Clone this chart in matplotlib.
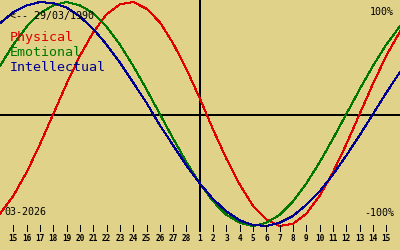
import matplotlib
matplotlib.use("Agg")
import matplotlib.pyplot as plt

# day index: 0 = 15 Feb, 14 = 1 Mar, 28 = 15 Mar (one point per day, -1 .. 30)
days = list(range(-1, 31))
tick_labels = ["15", "16", "17", "18", "19", "20", "21", "22", "23", "24", "25", "26", "27", "28",
               "1", "2", "3", "4", "5", "6", "7", "8", "9", "10", "11", "12", "13", "14", "15"]

physical = [-0.89, -0.73, -0.52, -0.27, 0.0, 0.27, 0.52, 0.73, 0.89, 0.98, 1.0, 0.94,
            0.82, 0.63, 0.40, 0.14, -0.14, -0.40, -0.63, -0.82, -0.94, -1.0, -0.98, -0.89,
            -0.73, -0.52, -0.27, 0.0, 0.27, 0.52, 0.73, 0.89]
emotional = [0.43, 0.62, 0.78, 0.90, 0.97, 1.0, 0.97, 0.90, 0.78, 0.62, 0.43, 0.22,
             0.0, -0.22, -0.43, -0.62, -0.78, -0.90, -0.97, -1.0, -0.97, -0.90, -0.78, -0.62,
             -0.43, -0.22, 0.0, 0.22, 0.43, 0.62, 0.78, 0.90]
intellectual = [0.81, 0.91, 0.97, 1.0, 0.99, 0.95, 0.87, 0.76, 0.62, 0.46, 0.28, 0.10,
                -0.10, -0.28, -0.46, -0.62, -0.76, -0.87, -0.95, -0.99, -1.0, -0.97, -0.91, -0.81,
                -0.69, -0.54, -0.37, -0.19, 0.0, 0.19, 0.37, 0.54]

bg = "#e1d28a"
red = "#e00000"
green = "#007800"
blue = "#000090"

fig = plt.figure(figsize=(4, 2.5), dpi=100, facecolor=bg)
ax = fig.add_axes([0, 0, 1, 1], facecolor=bg)
ax.set_xlim(-1.0, 29.03)
ax.set_ylim(-1.214, 1.018)
ax.axis("off")

# axes cross (the vertical one stops at the tick row)
ax.axhline(-0.01, color="black", lw=1.1, antialiased=False)
ax.plot([14.05, 14.05], [1.1, -1.04], color="black", lw=1.1, antialiased=False)

ax.plot(days, physical, color=red, lw=0.72, antialiased=False)
ax.plot(days, emotional, color=green, lw=0.72, antialiased=False)
ax.plot(days, intellectual, color=blue, lw=0.72, antialiased=False)

# day ticks along the bottom
mono = "DejaVu Sans Mono"
for i, lab in enumerate(tick_labels):
    ax.plot([i, i], [-0.995, -1.04], color="black", lw=0.72, antialiased=False)
    ax.text(i, -1.115, lab, ha="center", va="center", fontsize=5.6,
            fontweight="bold", family=mono, color="black")

ax.text(0.025, 0.935, "<-- 29/03/1990", transform=ax.transAxes, fontsize=7.2,
        family=mono, color="black", va="center")
ax.text(0.025, 0.85, "Physical", transform=ax.transAxes, fontsize=9.6,
        family=mono, color=red, va="center")
ax.text(0.025, 0.79, "Emotional", transform=ax.transAxes, fontsize=9.6,
        family=mono, color=green, va="center")
ax.text(0.025, 0.73, "Intellectual", transform=ax.transAxes, fontsize=9.6,
        family=mono, color=blue, va="center")

ax.text(0.985, 0.952, "100%", transform=ax.transAxes, fontsize=7.2,
        family=mono, color="black", ha="right", va="center")
ax.text(0.985, 0.148, "-100%", transform=ax.transAxes, fontsize=7.2,
        family=mono, color="black", ha="right", va="center")
ax.text(0.01, 0.152, "03-2026", transform=ax.transAxes, fontsize=7.2,
        family=mono, color="black", va="center")

fig.savefig("out.png", dpi=100, facecolor=bg)
